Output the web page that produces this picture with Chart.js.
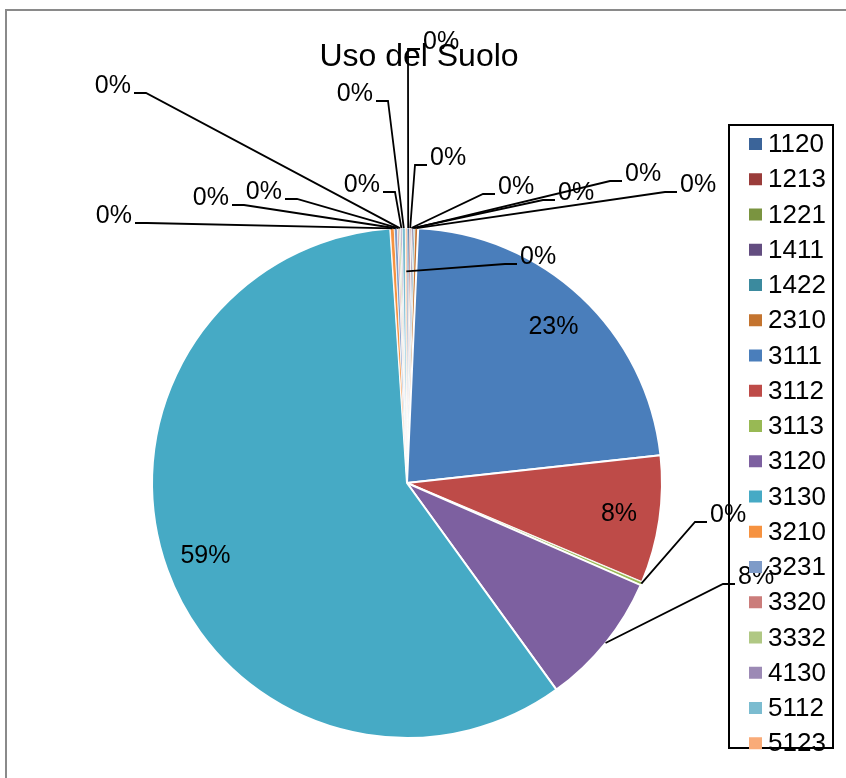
<!DOCTYPE html>
<html lang="it">
<head>
<meta charset="UTF-8">
<title>Uso del Suolo</title>
<script src="https://cdn.jsdelivr.net/npm/chart.js"></script>
<style>
  body { margin: 0; background: #fff; }
  #wrap { position: relative; width: 846px; height: 778px; }
</style>
</head>
<body>
<div id="wrap"><canvas id="pieChart"></canvas></div>
<script>
const chartTitle = 'Uso del Suolo';
const categories = ['1120', '1213', '1221', '1411', '1422', '2310', '3111', '3112', '3113',
                    '3120', '3130', '3210', '3231', '3320', '3332', '4130', '5112', '5123'];
// share of the area (%)
const values = [0.15, 0.1, 0.05, 0.1, 0.1, 0.2, 22.6, 8.1, 0.2,
                8.5, 59.0, 0.25, 0.2, 0.1, 0.1, 0.1, 0.2, 0.1];
const colors = ['#3B6499', '#9A3C3A', '#7A9440', '#634D80', '#3B8A9E', '#C4742F',
                '#4A7EBB', '#BE4B48', '#98B954', '#7D60A0', '#46AAC5', '#F69240',
                '#7E9BC8', '#CB7D7B', '#B0C884', '#9C8AB5', '#7BBCD0', '#F9AB78'];

// where each data label sits: [elbowX, elbowY, side] (side 1 = text right, -1 = text left)
// null = label drawn inside the slice; 4th item true = line starts inside the slice
const labelSpots = [
    [408, 49, 1], [415, 165, 1], [483, 194, 1], [543, 200, 1], [610, 181, 1], [665, 192, 1],
    null, null, [695, 522, 1], [723, 584, 1], null,
    [147, 223, -1], [244, 205, -1], [297, 199, -1], [146, 93, -1], [395, 192, -1],
    [388, 101, -1], [505, 264, 1, true]
];

const FONT = '"Liberation Sans", Arial, sans-serif';

const total = values.reduce((a, b) => a + b, 0);
function pctText(v) {
    return Math.round(v / total * 100) + '%';
}

const labelPlugin = {
    id: 'pieLabels',
    afterDatasetsDraw(chart) {
        const ctx = chart.ctx;
        const arcs = chart.getDatasetMeta(0).data;
        ctx.save();
        ctx.font = '25px ' + FONT;
        ctx.fillStyle = '#000';
        ctx.strokeStyle = '#000';
        ctx.lineWidth = 1.8;
        ctx.textBaseline = 'middle';
        arcs.forEach((arc, i) => {
            const mid = (arc.startAngle + arc.endAngle) / 2;
            const text = pctText(values[i]);
            const spot = labelSpots[i];
            if (!spot) {
                const rr = arc.outerRadius * 0.84;
                ctx.textAlign = 'center';
                ctx.fillText(text, arc.x + rr * Math.cos(mid), arc.y + rr * Math.sin(mid));
                return;
            }
            const rr = spot[3] ? arc.outerRadius * 0.83 : arc.outerRadius;
            const ax = arc.x + rr * Math.cos(mid);
            const ay = arc.y + rr * Math.sin(mid);
            const ex = spot[0], ey = spot[1], side = spot[2];
            const tx = ex + side * 12;
            ctx.beginPath();
            ctx.moveTo(ax, ay);
            ctx.lineTo(ex, ey);
            ctx.lineTo(tx, ey);
            ctx.stroke();
            ctx.textAlign = side > 0 ? 'left' : 'right';
            ctx.fillText(text, tx + side * 3, ey - 7);
        });
        ctx.restore();
    },
    afterDraw(chart) {
        const ctx = chart.ctx;
        ctx.save();
        // outer chart frame
        ctx.strokeStyle = '#8a8a8a';
        ctx.lineWidth = 2;
        ctx.strokeRect(6, 10, 880, 800);

        // title
        ctx.fillStyle = '#000';
        ctx.font = '32px ' + FONT;
        ctx.textAlign = 'center';
        ctx.textBaseline = 'alphabetic';
        ctx.fillText(chartTitle, 419, 66);

        // legend box
        ctx.strokeStyle = '#000';
        ctx.lineWidth = 2;
        ctx.strokeRect(729, 125, 104, 623);
        ctx.font = '26px ' + FONT;
        ctx.textAlign = 'left';
        ctx.textBaseline = 'middle';
        categories.forEach((c, i) => {
            const y = 144 + i * 35.25;
            ctx.fillStyle = colors[i];
            ctx.fillRect(749, y - 6, 13, 12);
            ctx.fillStyle = '#000';
            ctx.fillText(c, 768, y + 1);
        });
        ctx.restore();
    }
};

const ctx = document.getElementById('pieChart').getContext('2d');
const pieChart = new Chart(ctx, {
    type: 'pie',
    data: {
        labels: categories,
        datasets: [{
            data: values,
            backgroundColor: colors,
            borderColor: '#fff',
            // thinner separators on the tiny slices so their colours stay visible
            borderWidth: (c) => (values[c.dataIndex] < 1 ? 0.8 : 2)
        }]
    },
    options: {
        responsive: true,
        maintainAspectRatio: false,
        animation: false,
        layout: { padding: { top: 227, bottom: 39, left: 151, right: 183 } },
        plugins: {
            legend: { display: false },
            title: { display: false },
            tooltip: { enabled: false }
        }
    },
    plugins: [labelPlugin]
});
</script>
</body>
</html>
